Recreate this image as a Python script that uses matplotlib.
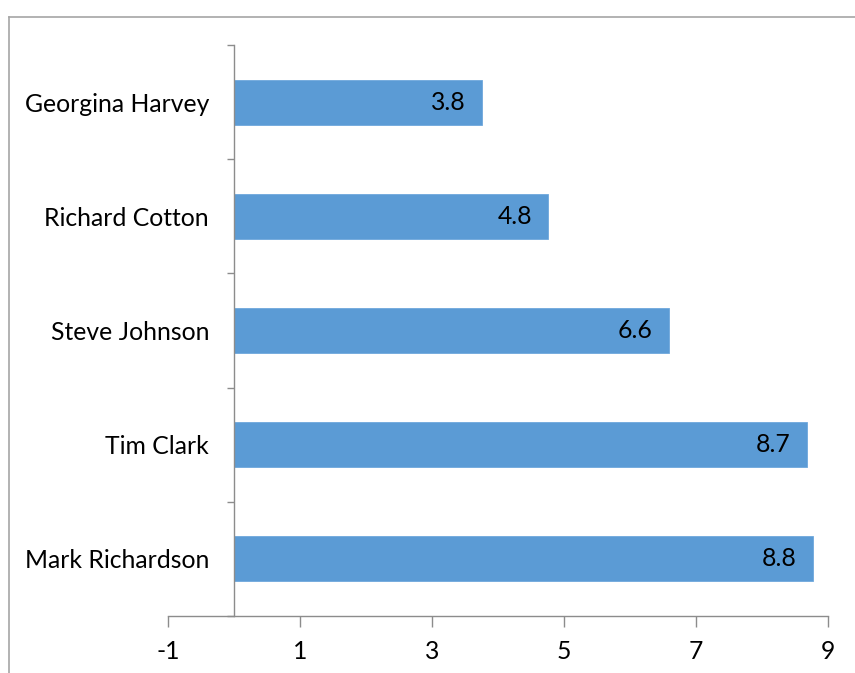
import matplotlib
matplotlib.use("Agg")
import matplotlib.pyplot as plt
from matplotlib.lines import Line2D

names = ["Mark Richardson", "Tim Clark", "Steve Johnson", "Richard Cotton", "Georgina Harvey"]
values = [8.77, 8.68, 6.59, 4.76, 3.76]
xticks = [-1, 1, 3, 5, 7, 9]

plt.rcParams['font.family'] = ['Lato', 'DejaVu Sans']

W, H = 855, 673
fig = plt.figure(figsize=(W / 100, H / 100), dpi=100)
ax = fig.add_axes([168 / W, 1 - 616 / H, (828 - 168) / W, (616 - 45) / H])

bar_color = "#5B9BD5"
ypos = list(range(len(names)))
bars = ax.barh(ypos, values, height=0.395, color=bar_color, edgecolor="#6FA8DC", linewidth=0.6)

for y, v in zip(ypos, values):
    ax.annotate(f"{v:.1f}", xy=(v, y), xytext=(-11.5, 0), textcoords="offset points",
                ha="right", va="center", fontsize=17.8, color="black")

ax.set_xlim(-1, 9)
ax.set_ylim(-0.5, len(names) - 0.5)

axis_col = "#8C8C8C"
for s in ["top", "right"]:
    ax.spines[s].set_visible(False)
ax.spines["left"].set_position(("data", 0))
ax.spines["left"].set_color(axis_col)
ax.spines["bottom"].set_color(axis_col)
ax.spines["left"].set_linewidth(1.0)
ax.spines["bottom"].set_linewidth(1.0)

ax.set_xticks(xticks)
ax.set_xticklabels([str(t) for t in xticks])
ax.tick_params(axis="x", direction="out", length=8, width=1.0, color=axis_col, pad=9, labelsize=17.8)

ax.set_yticks(ypos)
ax.set_yticklabels(names)
ax.set_yticks([i - 0.5 for i in range(len(names) + 1)], minor=True)
ax.tick_params(axis="y", which="major", length=0, pad=18, labelsize=17.8)
ax.tick_params(axis="y", which="minor", direction="out", length=5, width=1.0, color=axis_col)

frame_col = "#A6A6A6"
fig.add_artist(Line2D([9 / W, 9 / W], [0, 1 - 17 / H], color=frame_col, lw=1.2, transform=fig.transFigure))
fig.add_artist(Line2D([9 / W, 1], [1 - 17 / H, 1 - 17 / H], color=frame_col, lw=1.2, transform=fig.transFigure))

fig.savefig("out.png", dpi=100)
